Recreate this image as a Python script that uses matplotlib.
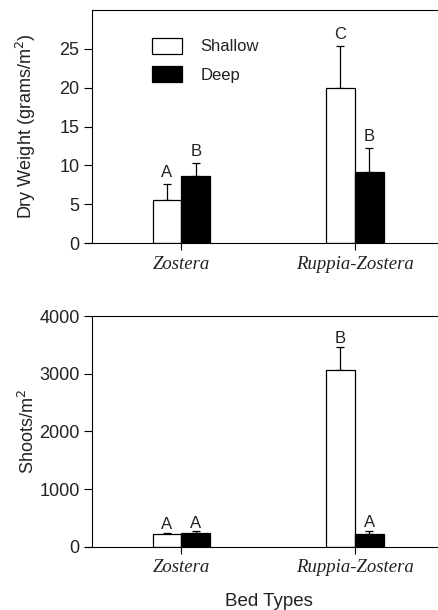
import numpy as np
import matplotlib
matplotlib.use("Agg")
import matplotlib.pyplot as plt
from matplotlib.patches import Patch

# Data
bed_types = ['Zostera', 'Ruppia-Zostera']
depths = ['Shallow', 'Deep']

dry_weight = {'Shallow': [5.6, 20.0], 'Deep': [8.6, 9.1]}
dry_weight_err = {'Shallow': [2.0, 5.4], 'Deep': [1.7, 3.1]}
dry_weight_letters = {'Shallow': ['A', 'C'], 'Deep': ['B', 'B']}

shoots = {'Shallow': [215, 3065], 'Deep': [232, 215]}
shoots_err = {'Shallow': [25, 395], 'Deep': [32, 62]}
shoots_letters = {'Shallow': ['A', 'B'], 'Deep': ['A', 'A']}

colors = {'Shallow': 'white', 'Deep': 'black'}

sans = 'Liberation Sans'
serif = 'Liberation Serif'
plt.rcParams['font.family'] = sans

fig = plt.figure(figsize=(4.39, 6.10), dpi=100)
ax1 = fig.add_axes([0.2096, 0.6016, 0.804, 0.382])
ax2 = fig.add_axes([0.2096, 0.1038, 0.804, 0.378])

x = np.arange(len(bed_types))
width = 0.166


def draw_panel(ax, values, errs, letters, ylim, yticks, pad):
    for k, d in enumerate(depths):
        pos = x + (k - 0.5) * width
        ax.bar(pos, values[d], width, color=colors[d], edgecolor='black',
               linewidth=0.9, label=d, zorder=2)
        ax.errorbar(pos, values[d], yerr=[np.zeros(len(x)), errs[d]],
                    fmt='none', ecolor='black', elinewidth=0.9, capsize=3,
                    capthick=0.9, zorder=1)
        for p, v, e, t in zip(pos, values[d], errs[d], letters[d]):
            ax.text(p, v + e + pad, t, ha='center', va='bottom', fontsize=12,
                    color='#222222')
    ax.set_xlim(-0.515, 1.52)
    ax.set_ylim(*ylim)
    ax.set_yticks(yticks)
    ax.set_xticks(x)
    ax.set_xticklabels(bed_types, fontfamily=serif, fontstyle='italic',
                       fontsize=13.5, color='#222222')
    ax.tick_params(axis='y', direction='out', length=6, width=0.8,
                   labelsize=13, pad=3, labelcolor='#222222')
    ax.tick_params(axis='x', direction='out', length=5, width=0.8, pad=4)
    for s in ax.spines.values():
        s.set_linewidth(0.8)
    # bottom axis line reaches out past the left spine
    ax.spines['bottom'].set_bounds(-0.555, 1.52)
    ax.spines['bottom'].set_clip_on(False)
    ax.yaxis.set_label_coords(-0.152, 0.5)


draw_panel(ax1, dry_weight, dry_weight_err, dry_weight_letters,
           (0, 30), [0, 5, 10, 15, 20, 25], 0.5)
ax1.set_ylabel('Dry Weight (grams/m$^2$)', fontsize=13, color='#222222')

handles = [Patch(facecolor=colors[d], edgecolor='black', linewidth=0.9,
                 label=d) for d in depths]
leg = ax1.legend(handles=handles, loc='upper left',
                 bbox_to_anchor=(0.128, 0.945), frameon=False, fontsize=12,
                 handlelength=1.8, handleheight=1.1, handletextpad=1.1,
                 labelspacing=0.7)
for t in leg.get_texts():
    t.set_color('#222222')

draw_panel(ax2, shoots, shoots_err, shoots_letters,
           (0, 4000), [0, 1000, 2000, 3000, 4000], 15)
ax2.set_ylabel('Shoots/m$^2$', fontsize=13, color='#222222')
ax2.set_xlabel('Bed Types', fontsize=13.5, labelpad=12, color='#222222')

fig.savefig('out.png', dpi=100)
